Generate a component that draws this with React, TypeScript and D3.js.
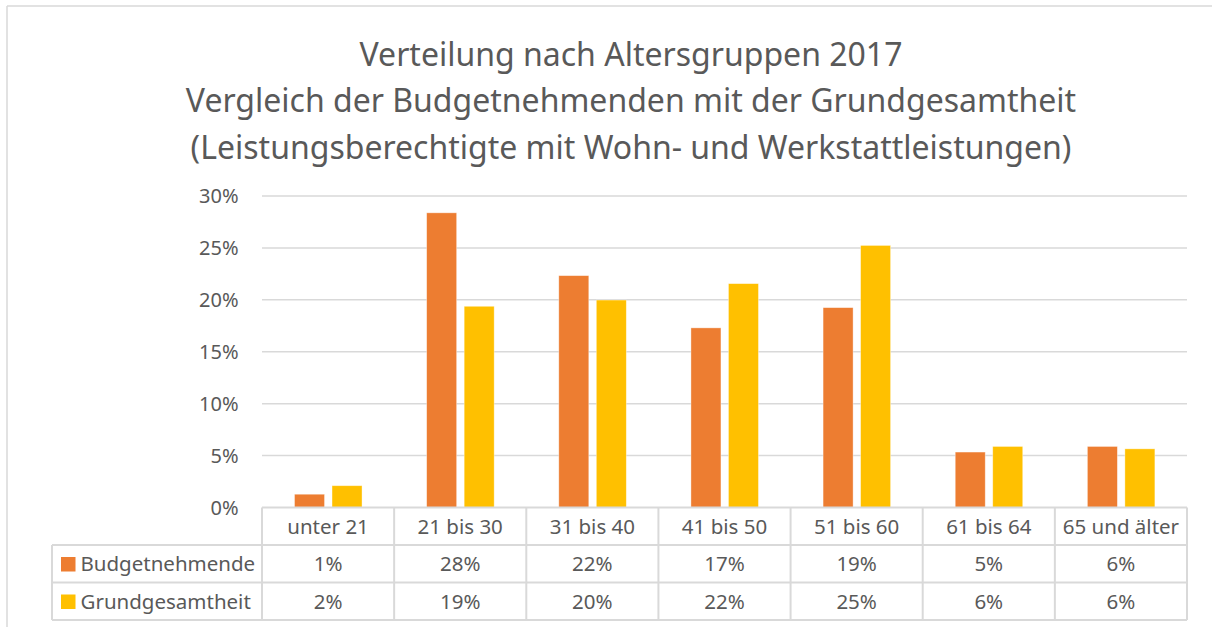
import React from "react";
import * as d3 from "d3";

const categories = ["unter 21", "21 bis 30", "31 bis 40", "41 bis 50", "51 bis 60", "61 bis 64", "65 und älter"];
const seriesNames = ["Budgetnehmende", "Grundgesamtheit"];
const budgetnehmende = [0.0128, 0.2838, 0.2233, 0.173, 0.1925, 0.0534, 0.0588];
const grundgesamtheit = [0.021, 0.1938, 0.1998, 0.2156, 0.2524, 0.0588, 0.0565];
const budgetLabels = ["1%", "28%", "22%", "17%", "19%", "5%", "6%"];
const grundLabels = ["2%", "19%", "20%", "22%", "25%", "6%", "6%"];
const yTicks = [0, 0.05, 0.1, 0.15, 0.2, 0.25, 0.3];
const titleLines = [
  "Verteilung nach Altersgruppen 2017",
  "Vergleich der Budgetnehmenden mit der Grundgesamtheit",
  "(Leistungsberechtigte mit Wohn- und Werkstattleistungen)",
];
const colors = ["#ED7D31", "#FFC000"];

export default function App() {
  const W = 1212, H = 627;
  const plotL = 262, plotR = 1187, plotT = 196, plotB = 507.5;
  const legL = 52;
  const rowH = 37.5;
  const font = "'Noto Sans', sans-serif";
  const text = "#595959";
  const grid = "#d9d9d9";

  const x = d3.scaleBand<string>().domain(categories).range([plotL, plotR]).paddingInner(0).paddingOuter(0);
  const bw = x.bandwidth();
  const x1 = d3.scaleBand<string>().domain(seriesNames).range([bw * 0.246, bw * 0.757]).paddingInner(0.2).paddingOuter(0);
  const y = d3.scaleLinear().domain([0, 0.3]).range([plotB, plotT]);
  const seriesValues = [budgetnehmende, grundgesamtheit];
  const seriesLabels = [budgetLabels, grundLabels];

  const rowTops = [plotB, plotB + rowH, plotB + 2 * rowH, plotB + 3 * rowH];

  return (
    <svg width={W} height={H} style={{ position: "absolute", left: 0, top: 0, background: "#fff" }} fontFamily={font}>
      <rect x={0} y={0} width={W} height={H} fill="#fff" />
      <line x1={7} y1={6} x2={W} y2={6} stroke={grid} strokeWidth={1.5} />
      <line x1={7} y1={6} x2={7} y2={H} stroke={grid} strokeWidth={1.5} />
      {titleLines.map((t, i) => (
        <text key={i} x={631} y={66 + i * 46.3} textAnchor="middle" fontSize={32} fill={text}>{t}</text>
      ))}
      {yTicks.map((t) => (
        <g key={t}>
          {t > 0 && <line x1={plotL} x2={plotR} y1={y(t)} y2={y(t)} stroke={grid} strokeWidth={1.5} />}
          <text x={238.5} y={y(t) + 7.3} textAnchor="end" fontSize={20} fill={text}>{d3.format(".0%")(t)}</text>
        </g>
      ))}
      {seriesNames.map((s, si) => (
        <g key={s}>
          {categories.map((c, ci) => {
            const v = seriesValues[si][ci];
            return (
              <rect key={c} x={(x(c) as number) + (x1(s) as number)} y={y(v)} width={x1.bandwidth()} height={plotB - y(v)}
                fill={colors[si]} stroke="#fff" strokeOpacity={0.5} strokeWidth={0.75} />
            );
          })}
        </g>
      ))}
      <g stroke={grid} strokeWidth={2} fill="none">
        <line x1={plotL} x2={plotR} y1={rowTops[0]} y2={rowTops[0]} />
        <line x1={legL} x2={plotR} y1={rowTops[1]} y2={rowTops[1]} />
        <line x1={legL} x2={plotR} y1={rowTops[2]} y2={rowTops[2]} />
        <line x1={legL} x2={plotR} y1={rowTops[3]} y2={rowTops[3]} />
        <line x1={legL} x2={legL} y1={rowTops[1]} y2={rowTops[3]} />
        {categories.map((c) => (
          <line key={c} x1={x(c) as number} x2={x(c) as number} y1={rowTops[0]} y2={rowTops[3]} />
        ))}
        <line x1={plotR} x2={plotR} y1={rowTops[0]} y2={rowTops[3]} />
      </g>
      {categories.map((c) => (
        <text key={c} x={(x(c) as number) + bw / 2} y={rowTops[0] + 26} textAnchor="middle" fontSize={20.5} fill={text}>{c}</text>
      ))}
      {seriesNames.map((s, si) => (
        <g key={s}>
          <rect x={61} y={rowTops[si + 1] + 12} width={14.5} height={14.5} fill={colors[si]} />
          <text x={80.5} y={rowTops[si + 1] + 26} fontSize={20.5} fill={text}>{s}</text>
          {categories.map((c, ci) => (
            <text key={c} x={(x(c) as number) + bw / 2} y={rowTops[si + 1] + 26} textAnchor="middle" fontSize={20.5} fill={text}>{seriesLabels[si][ci]}</text>
          ))}
        </g>
      ))}
    </svg>
  );
}
